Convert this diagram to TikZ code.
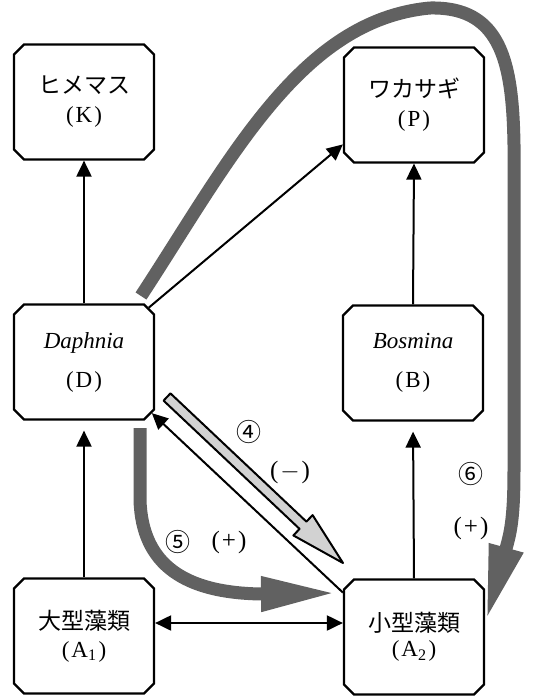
\documentclass[tikz,border=0pt]{standalone}
\usepackage{fontspec}
\setmainfont{Liberation Serif}
\newfontfamily\jpfont{Noto Sans CJK JP}
\usetikzlibrary{arrows.meta,shapes.misc,calc}

\newcommand{\ptag}[1]{(\hspace{2pt}#1\hspace{2pt})}

\begin{document}
\begin{tikzpicture}[
  x=1pt, y=-1pt,
  box/.style={chamfered rectangle, chamfered rectangle xsep=5pt, chamfered rectangle ysep=5pt, draw, line width=2.2pt, minimum width=140pt, minimum height=115pt, align=center, font=\fontsize{23}{27}\selectfont, inner sep=0pt},
  link/.style={-{Triangle[length=16pt,width=15pt]}, line width=2pt},
  fat/.style={line width=13pt, draw=black!62, -{Triangle[length=76pt,width=32pt]}},
  lbl/.style={font=\fontsize{25}{29}\selectfont}
]
\useasboundingbox (0,0) rectangle (536,697);

% boxes
\node[box] (K)  at (84,102)  {{\jpfont ヒメマス}\\[2pt]\ptag{K}};
\node[box] (P)  at (414,105) {{\jpfont ワカサギ}\\[2pt]\ptag{P}};
\node[box] (D)  at (84,362)  {\textit{Daphnia}\\[12pt]\ptag{D}};
\node[box] (B)  at (413,363) {\textit{Bosmina}\\[12pt]\ptag{B}};
\node[box] (A1) at (84,636)  {{\jpfont 大型藻類}\\[1pt]\ptag{A\textsubscript{1}}};
\node[box] (A2) at (414,637) {{\jpfont 小型藻類}\\[-2pt]\ptag{A\textsubscript{2}}};

% feeding links
\draw[link] (D.north) -- (K.south);
\draw[link] (D.40) -- (P.209);
\draw[link] (B.north) -- (P.south);
\draw[link, shorten >=10pt] (A1.north) -- (D.south);
\draw[link, shorten >=10pt] (A2.north) -- (B.south);
\draw[link] (A2.148) -- (D.-37);
\draw[{Triangle[length=16pt,width=15pt]}-{Triangle[length=16pt,width=15pt]}, line width=2pt]
  ([yshift=13pt]A1.east) -- ([yshift=14pt]A2.west);

% effect 4 (hollow arrow)
\coordinate (h4s) at (167,397);
\coordinate (h4e) at (343,563);
\coordinate (h4b) at ($(h4e)!55pt!(h4s)$);
\filldraw[fill=gray!35, line width=2pt, line join=round]
  ($(h4s)!5pt!90:(h4e)$) -- ($(h4b)!5pt!90:(h4e)$) -- ($(h4b)!14pt!90:(h4e)$) -- (h4e)
  -- ($(h4b)!14pt!-90:(h4e)$) -- ($(h4b)!5pt!-90:(h4e)$) -- ($(h4s)!5pt!-90:(h4e)$) -- cycle;

% effects 5 and 6
\coordinate (f5s) at (140,428);
\coordinate (f5e) at (337,593);
\draw[fat] (f5s) -- (140,500) .. controls (142,565) and (185,593) .. (262,594) -- (f5e);
\coordinate (f6s) at (141,296);
\coordinate (f6e) at (486,621);
\draw[fat] (f6s) .. controls (230,160) and (300,20) .. (430,8)
  .. controls (522,6) and (514,100) .. (514,220) -- (514,470)
  .. controls (514,515) and (511,530) .. (507,545) -- (f6e);

% labels
\node[lbl] (n4) at (249,432) {\jpfont ④};
\node[lbl] (s4) at (290,472) {\ptag{$-$}};
\node[lbl] (n5) at (178,542) {\jpfont ⑤};
\node[lbl] (s5) at (229,542) {\ptag{+}};
\node[lbl] (n6) at (471,474) {\jpfont ⑥};
\node[lbl] (s6) at (471,528) {\ptag{+}};
\end{tikzpicture}
\end{document}
